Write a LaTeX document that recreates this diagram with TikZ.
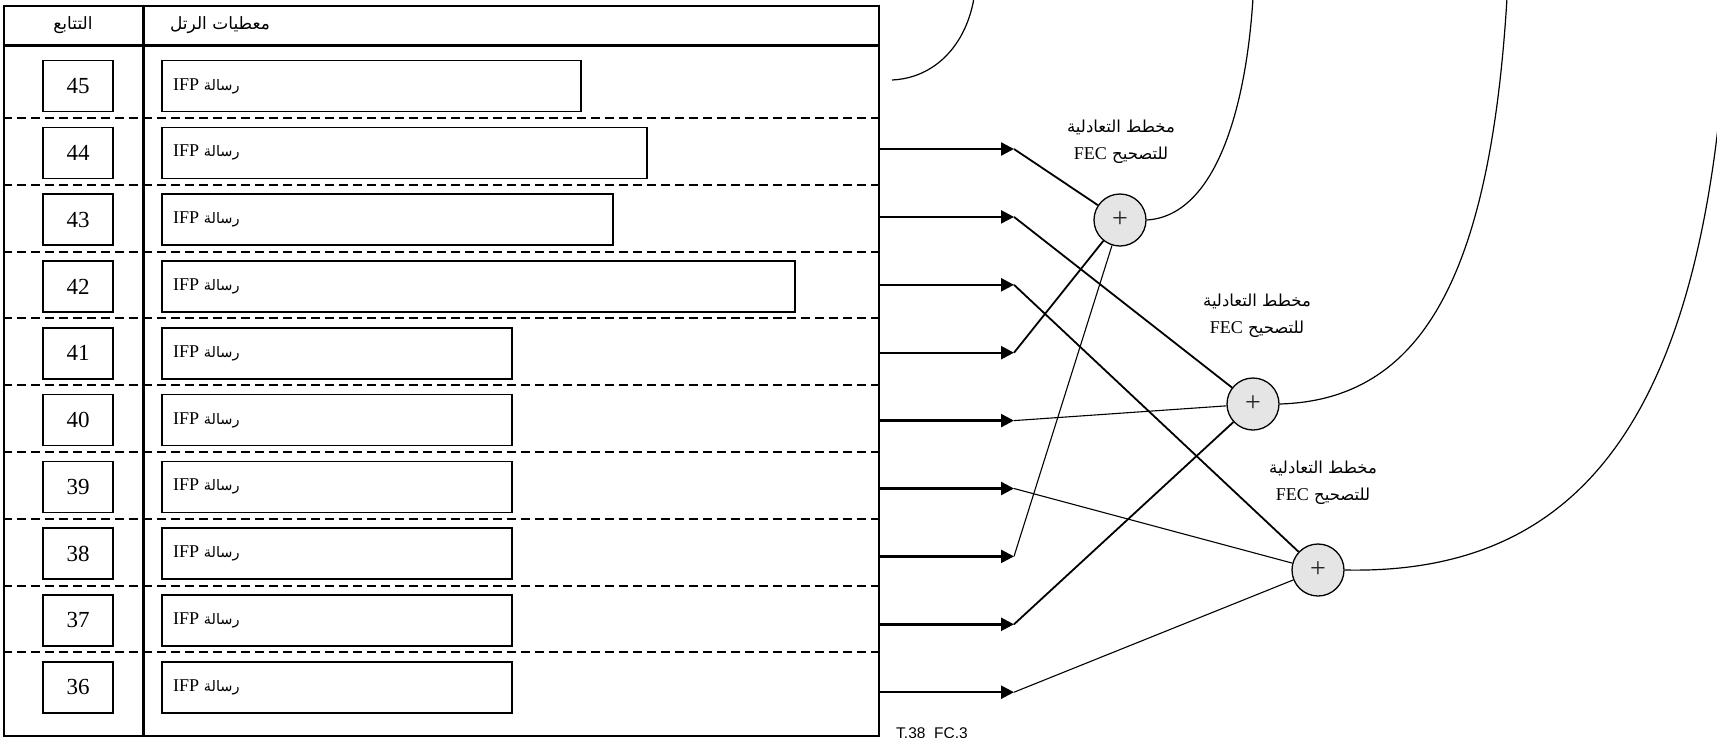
\documentclass[tikz,border=0pt]{standalone}
\usepackage{fontspec}
\setmainfont{Liberation Serif}
\newfontfamily\arabicfont[Script=Arabic]{DejaVu Sans}
\newfontfamily\figsans{Liberation Sans}
\TeXXeTstate=1
\usetikzlibrary{arrows.meta}
\tikzset{
  frameline/.style={line width=2pt},
  thickline/.style={line width=3pt},
  rowsep/.style={line width=2pt, dash pattern=on 9pt off 5pt},
  numbox/.style={draw, line width=1.6pt, minimum width=70pt, minimum height=51pt, inner sep=0pt,
    font=\fontsize{23}{23}\selectfont},
  ifpbox/.style={draw, line width=1.6pt, minimum height=51pt, inner sep=0pt, anchor=west},
  ifptext/.style={inner sep=0pt, anchor=west, font=\arabicfont\fontsize{14.5}{14.5}\selectfont},
  hdr/.style={inner sep=0pt, font=\arabicfont\fontsize{17}{17}\selectfont},
  arr/.style={line width=2.4pt, -{Triangle[length=13pt,width=13pt]}},
  thickconn/.style={line width=1.8pt},
  thinconn/.style={line width=1.1pt},
  fecc/.style={circle, draw, line width=1.3pt, fill=black!10, minimum size=52pt, inner sep=0pt,
    text=black!85, font=\fontsize{28}{28}\selectfont},
  feclabel/.style={align=center, inner sep=0pt, font=\arabicfont\fontsize{16.5}{27}\selectfont},
  curveline/.style={line width=1.2pt},
}
\begin{document}
\begin{tikzpicture}[x=1pt,y=-1pt]
\useasboundingbox (0,0) rectangle (1717,737);
% table frame
\node[draw, frameline, minimum width=875pt, minimum height=730pt, inner sep=0pt, anchor=north west] (tbl) at (3,5) {};
\draw[thickline] (tbl.west |- 0,45) -- (tbl.east |- 0,45);
\draw[thickline] (143,0 |- tbl.north) -- (143,0 |- tbl.south);
\foreach \k in {0,...,8}{
  \pgfmathsetmacro\yy{round(118+66.8*\k)}
  \draw[rowsep] (tbl.west |- 0,\yy) -- (tbl.east |- 0,\yy);
}
% headers
\node[hdr] (h1) at (73,25) {\beginR التتابع\endR};
\node[hdr] (h2) at (220,25) {\beginR معطيات الرتل\endR};
% rows
\foreach \n/\r [count=\k from 0] in {45/580,44/646,43/612,42/794,41/511,40/511,39/511,38/511,37/511,36/511}{
  \pgfmathsetmacro\yy{86+66.8*\k}
  \pgfmathsetmacro\ww{\r-161}
  \node[numbox] (n\n) at (78,\yy) {\n};
  \node[ifpbox, minimum width=\ww pt,
    label={[ifptext, xshift=12pt]west:{\beginR رسالة \beginL{\rmfamily\fontsize{18}{18}\selectfont IFP}\endL\endR}}] (b\n) at (161,\yy) {};
}
% arrows out of the frame
\foreach \n [count=\k from 0] in {44,43,42,41,40,39,38,37,36}{
  \pgfmathsetmacro\yy{149+67.9*\k}
  \coordinate (s\n) at (878,\yy);
  \coordinate (j\n) at (1014,\yy);
  \draw[arr] (s\n) -- (j\n);
}
% FEC circles
\node[fecc] (C1) at (1120,220) {+};
\node[fecc] (C2) at (1253,404) {+};
\node[fecc] (C3) at (1318,570) {+};
% labels
\node[feclabel] (L1) at (1121,142) {\beginR مخطط التعادلية\endR\\\beginR للتصحيح \beginL{\rmfamily\fontsize{18}{18}\selectfont FEC}\endL\endR};
\node[feclabel] (L2) at (1257,316) {\beginR مخطط التعادلية\endR\\\beginR للتصحيح \beginL{\rmfamily\fontsize{18}{18}\selectfont FEC}\endL\endR};
\node[feclabel] (L3) at (1323,483) {\beginR مخطط التعادلية\endR\\\beginR للتصحيح \beginL{\rmfamily\fontsize{18}{18}\selectfont FEC}\endL\endR};
% connectors
\draw[thickconn] (j44) -- (C1);
\draw[thickconn] (j41) -- (C1);
\draw[thinconn] (j38) -- (C1);
\draw[thickconn] (j43) -- (C2);
\draw[thinconn] (j40) -- (C2);
\draw[thickconn] (j37) -- (C2);
\draw[thickconn] (j42) -- (C3);
\draw[thinconn] (j39) -- (C3);
\draw[thinconn] (j36) -- (C3);
% output curves
\coordinate (tail) at (892,80);
\coordinate (top0) at (974,-2);
\coordinate (top1) at (1253,-2);
\coordinate (top2) at (1507,-2);
\coordinate (top3) at (1728,-2);
\draw[curveline] (tail) .. controls (935,78) and (966,45) .. (top0);
\draw[curveline] (C1.east) .. controls (1215,216) and (1246,110) .. (top1);
\draw[curveline] (C2.east) .. controls (1420,400) and (1490,280) .. (top2);
\draw[curveline] (C3.east) .. controls (1580,575) and (1710,420) .. (top3);
% figure code
\node[anchor=base west, inner sep=0pt, font=\figsans\fontsize{15.5}{15.5}\selectfont] (fig) at (896,738.5) {T.38\_FC.3};
\end{tikzpicture}
\end{document}
